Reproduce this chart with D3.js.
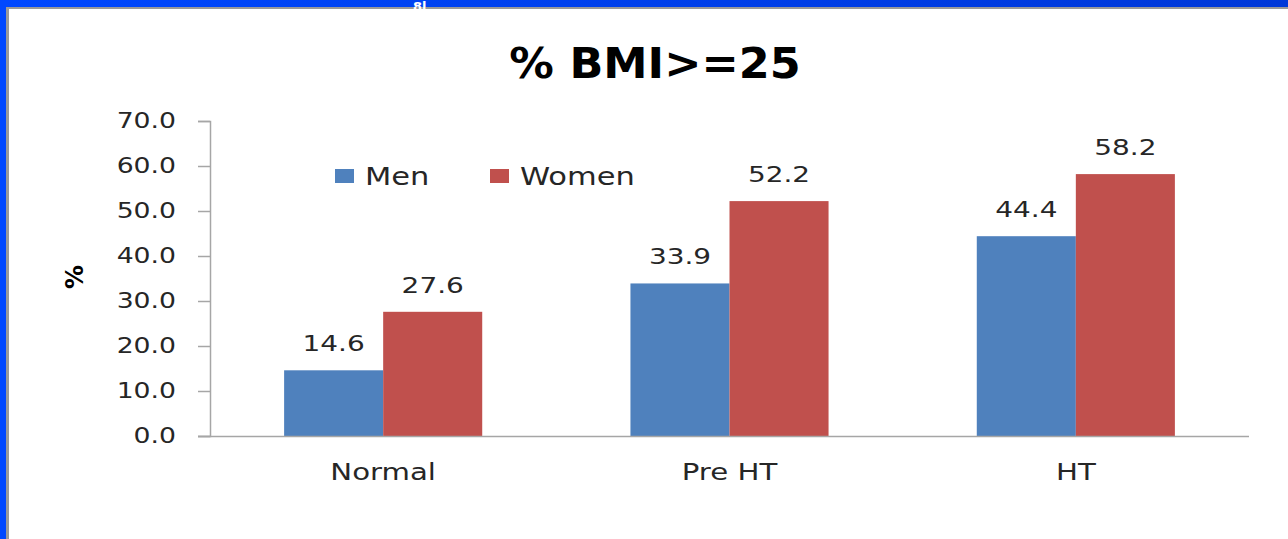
<!DOCTYPE html>
<html><head><meta charset="utf-8">
<script src="https://cdn.jsdelivr.net/npm/d3@7"></script>
<style>html,body{margin:0;padding:0;background:#fff;overflow:hidden}</style>
</head><body>
<svg id="c" width="1288" height="539"></svg>
<script>
const categories = ["Normal", "Pre HT", "HT"];
const seriesNames = ["Men", "Women"];
const men = [14.6, 33.9, 44.4];
const women = [27.6, 52.2, 58.2];
const yTicks = [0, 10, 20, 30, 40, 50, 60, 70];
const colors = ["#4F81BD", "#C0504D"];

const svg = d3.select("#c");
const W = 1288, H = 539;
const SX = 1.27; // horizontal stretch of text
const font = "'DejaVu Sans', Verdana, sans-serif";

// frame
const grad = svg.append("defs").append("linearGradient").attr("id","bg").attr("x1","0").attr("x2","1");
grad.append("stop").attr("offset","0").attr("stop-color","#0048ff");
grad.append("stop").attr("offset","1").attr("stop-color","#0038d8");
svg.append("rect").attr("width",W).attr("height",H).attr("fill","url(#bg)");
svg.append("rect").attr("x",6).attr("y",7).attr("width",W).attr("height",H).attr("fill","#9a9a9a");
svg.append("rect").attr("x",9).attr("y",9).attr("width",W).attr("height",H).attr("fill","#ffffff");
svg.append("text").attr("x",413).attr("y",11).attr("fill","#fff").attr("font-family",font)
  .attr("font-weight","bold").attr("font-size",13).text("8l");

const y = d3.scaleLinear().domain([0,70]).range([436,121]);
const x = d3.scaleBand().domain(categories).range([210,1249]).paddingInner(0.428).paddingOuter(0.214);
const xs = d3.scaleBand().domain(seriesNames).range([0,x.bandwidth()]);

function stext(g, tx, ty, s, size, opts={}) {
  const t = g.append("text")
    .attr("transform",`translate(${tx},${ty}) scale(${opts.sx||SX},1)`)
    .attr("font-family",font).attr("font-size",size)
    .attr("fill",opts.fill||"#262626")
    .attr("text-anchor",opts.anchor||"middle")
    .text(s);
  if (opts.weight) t.attr("font-weight",opts.weight);
  return t;
}

// title
stext(svg, 655, 78, "% BMI>=25", 42, {weight:"bold", fill:"#000", sx:1.06});

// y axis
const ya = svg.append("g").attr("transform","translate(210,0)")
  .call(d3.axisLeft(y).tickValues(yTicks).tickSize(12).tickPadding(22).tickFormat(d3.format(".1f")));
ya.select(".domain").attr("stroke","#a6a6a6").attr("stroke-width",1.5);
ya.selectAll(".tick line").attr("stroke","#a6a6a6").attr("stroke-width",1.5);
ya.selectAll(".tick text").each(function(){
  const t = d3.select(this);
  const xv = +t.attr("x");
  t.attr("x", xv/SX).attr("transform",`scale(${SX},1)`)
   .attr("font-family",font).attr("font-size",21).attr("fill","#262626");
});

// y axis title
svg.append("text").attr("transform","translate(83,277) rotate(-90)")
  .attr("text-anchor","middle").attr("font-family",font).attr("font-size",24)
  .attr("font-weight","bold").attr("fill","#000").text("%");

// bars
const data = categories.map((c,i)=>({c, vals:[men[i], women[i]]}));
const groups = svg.append("g").selectAll("g").data(data).join("g")
  .attr("transform",d=>`translate(${x(d.c)},0)`);
groups.selectAll("rect").data(d=>d.vals.map((v,j)=>({v,s:seriesNames[j],j}))).join("rect")
  .attr("x",d=>xs(d.s)).attr("width",xs.bandwidth())
  .attr("y",d=>y(d.v)).attr("height",d=>y(0)-y(d.v))
  .attr("fill",d=>colors[d.j]);
groups.each(function(d){
  const g = d3.select(this);
  d.vals.forEach((v,j)=>{
    stext(g, xs(seriesNames[j])+xs.bandwidth()/2, y(v)-19, v.toFixed(1), 22);
  });
});

// x axis
svg.append("line").attr("x1",198).attr("x2",1249).attr("y1",436.5).attr("y2",436.5)
  .attr("stroke","#a6a6a6").attr("stroke-width",1.5);
categories.forEach(c=>{
  stext(svg, x(c)+x.bandwidth()/2, 480, c, 23);
});

// legend
const lg = svg.append("g");
const legX = [335, 490];
seriesNames.forEach((s,i)=>{
  lg.append("rect").attr("x",legX[i]).attr("y",169).attr("width",19).attr("height",14).attr("fill",colors[i]);
  stext(lg, legX[i]+30, 185, s, 24, {anchor:"start"});
});
</script>
</body></html>
